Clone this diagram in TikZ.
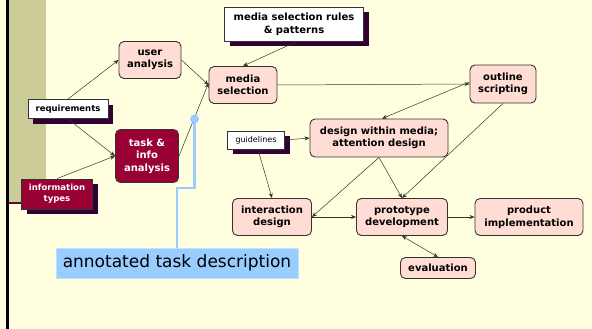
\documentclass[tikz,border=0pt]{standalone}
\usepackage{fontspec}
\setmainfont{DejaVu Sans}
\usetikzlibrary{arrows.meta,shadows}
\definecolor{bgc}{HTML}{FFFFE0}
\definecolor{olivec}{HTML}{CCCC99}
\definecolor{pinkc}{HTML}{FFDDD5}
\definecolor{bordc}{HTML}{333333}
\definecolor{darkred}{HTML}{990033}
\definecolor{shadc}{HTML}{330033}
\definecolor{bluec}{HTML}{99CCFF}
\definecolor{purplel}{HTML}{660044}
\definecolor{linec}{HTML}{333333}
\tikzset{
  proc/.style={draw=bordc, fill=pinkc, rounded corners=5pt, line width=0.9pt, align=center,
    font=\bfseries\fontsize{10}{12.5}\selectfont, inner sep=1pt, text=black},
  darkproc/.style={proc, fill=darkred, text=white},
  shbox/.style={draw=bordc, line width=0.9pt, align=center, inner sep=1pt,
    drop shadow={shadow xshift=5pt, shadow yshift=-5pt, fill=shadc, opacity=1}},
  conn/.style={draw=linec, line width=0.5pt, -{Stealth[length=5pt,width=4pt]}},
  conn2/.style={draw=linec, line width=0.5pt, {Stealth[length=5pt,width=4pt]}-{Stealth[length=5pt,width=4pt]}},
}
\begin{document}
\begin{tikzpicture}[x=1pt,y=-1pt]
\fill[bgc] (0,0) rectangle (592,329);
\useasboundingbox (0,0) rectangle (592,329);
\fill[olivec] (8,0) rectangle (46,203);
\draw[purplel, line width=2pt] (8,203) -- (46,203);
\draw[black, line width=2.5pt] (7.5,0) -- (7.5,329);

% nodes
\node[proc, minimum width=62pt, minimum height=37pt] (ua) at (150,60) {user\\analysis};
\node[shbox, fill=white, minimum width=80pt, minimum height=19pt, font=\bfseries\fontsize{8.5}{10}\selectfont] (req) at (68,109) {requirements};
\node[darkproc, minimum width=63pt, minimum height=53pt] (ta) at (147,156) {task \&\\info\\analysis};
\node[shbox, fill=darkred, text=white, minimum width=71pt, minimum height=30pt, font=\bfseries\fontsize{8.5}{11}\selectfont] (it) at (57,194) {information\\types};
\node[shbox, fill=white, minimum width=139pt, minimum height=34pt, font=\bfseries\fontsize{10}{12.5}\selectfont] (mr) at (294,24) {media selection rules\\\& patterns};
\node[proc, minimum width=68pt, minimum height=37pt] (ms) at (243,85) {media\\selection};
\node[proc, minimum width=66pt, minimum height=38pt] (os) at (503,84) {outline\\scripting};
\node[proc, minimum width=138pt, minimum height=38pt] (dw) at (379,138) {design within media;\\attention design};
\node[shbox, fill=white, minimum width=57pt, minimum height=18pt, font=\fontsize{8}{10}\selectfont] (gl) at (256,140) {guidelines};
\node[proc, minimum width=79pt, minimum height=37pt] (id) at (272,217) {interaction\\design};
\node[proc, minimum width=91pt, minimum height=37pt] (pd) at (402,217) {prototype\\development};
\node[proc, minimum width=108pt, minimum height=37pt] (pi) at (529,217) {product\\implementation};
\node[proc, minimum width=75pt, minimum height=21pt] (ev) at (438,268) {evaluation};

% connectors
\draw[conn] (req.north) -- (ua.west);
\draw[conn] (req.south) -- (ta.west);
\draw[conn] (it.north) -- (ta.west);
\draw[conn] (ua.east) -- (ms.west);
\draw[conn] (ta.east) -- ([yshift=2pt]ms.west);
\draw[conn] ([xshift=3pt]mr.south) -- (ms.north);
\draw[conn] (ms.east) -- (os.west);
\draw[conn] ([yshift=2pt]os.west) -- ([xshift=3pt]dw.north);
\draw[conn] (os.south) -- (pd.north);
\draw[conn] (dw.south) -- (id.east);
\draw[conn] (dw.south) -- (pd.north);
\draw[conn] (gl.east) -- (dw.west);
\draw[conn] ([xshift=2pt]gl.south) -- (id.north);
\draw[conn] (id.east) -- (pd.west);
\draw[conn] (pd.east) -- (pi.west);
\draw[conn2] (pd.south) -- (ev.north);

% annotation
\node[fill=bluec, draw=bluec!60!white, line width=0.5pt, minimum width=242pt, minimum height=30pt, inner sep=0pt, font=\fontsize{17}{20}\selectfont] (atd) at (177,263) {annotated task description};
\coordinate (dot) at (194.5,119);
\draw[bluec, line width=2.5pt] (dot) -- (194.5,188) -| (atd.north);
\fill[bluec] (dot) circle (4.5pt);
\end{tikzpicture}
\end{document}
